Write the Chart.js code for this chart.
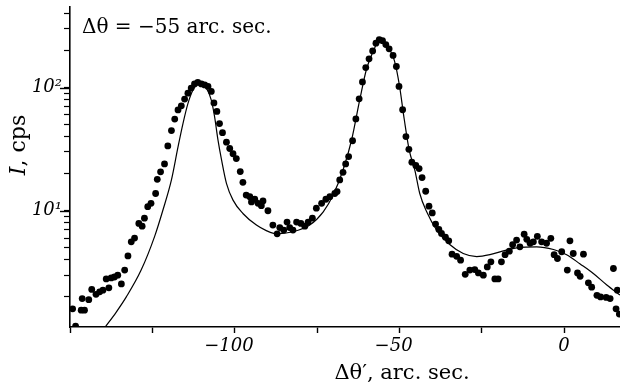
<!DOCTYPE html>
<html>
<head>
<meta charset="utf-8">
<script src="https://cdn.jsdelivr.net/npm/chart.js@4.4.0/dist/chart.umd.min.js"></script>
<style>
  html, body { margin: 0; padding: 0; background: #fff; }
  #wrap { width: 620px; height: 389px; }
</style>
</head>
<body>
<div id="wrap"><canvas id="rc" width="620" height="389"></canvas></div>
<script>
// measured intensity (dots), angle in arc sec
const dotX = [-149.2, -148.3, -146.6, -146.3, -145.6, -144.3, -143.4, -142.1, -141.0, -140.0,
  -139.0, -138.2, -137.5, -136.5, -135.5, -134.4, -133.4, -132.4, -131.4, -130.4,
  -129.1, -128.1, -127.4, -126.4, -125.4, -124.0, -123.5, -122.5, -121.3, -120.3,
  -119.2, -118.2, -117.2, -116.2, -115.2, -114.2, -113.2, -112.2, -111.2, -110.1,
  -109.1, -108.1, -107.1, -106.3, -105.4, -104.6, -103.7, -102.5, -101.5, -100.5,
  -99.5, -98.3, -97.5, -96.5, -95.4, -94.9, -93.9, -92.9, -91.9, -91.4,
  -89.9, -88.4, -87.1, -86.3, -85.1, -84.1, -83.3, -82.3, -81.2, -79.9,
  -78.7, -77.7, -76.4, -75.2, -73.6, -72.3, -71.1, -69.6, -68.9, -68.1,
  -67.1, -66.3, -65.4, -64.2, -63.2, -62.2, -61.2, -60.2, -59.2, -58.1,
  -57.1, -56.1, -55.1, -54.1, -53.1, -51.9, -50.9, -50.1, -49.0, -48.0,
  -47.1, -46.2, -45.0, -44.0, -43.1, -42.0, -41.0, -40.0, -39.0, -38.0,
  -37.2, -36.0, -35.0, -34.0, -32.6, -31.4, -30.0, -28.6, -27.1, -26.0,
  -24.5, -23.3, -22.2, -21.0, -20.0, -19.0, -17.9, -16.6, -15.6, -14.4,
  -13.4, -12.1, -11.3, -10.3, -9.3, -8.1, -6.8, -5.3, -4.0, -3.0,
  -2.0, -0.7, 1.0, 1.8, 2.8, 4.1, 4.9, 5.9, 7.4, 8.4,
  10.0, 11.1, 12.8, 14.0, 15.0, 15.8, 16.2, 16.8];
const dotY = [1.6, 1.16, 1.56, 1.94, 1.56, 1.9, 2.3, 2.1, 2.2, 2.27,
  2.8, 2.37, 2.85, 2.9, 3.0, 2.55, 3.3, 4.3, 5.6, 6.0,
  7.9, 7.5, 8.7, 10.8, 11.5, 13.8, 18.0, 20.7, 24, 33.6,
  44.7, 55.5, 65.8, 71, 80.5, 90, 99, 107, 110, 107,
  105, 102, 93, 75, 64, 51, 43, 36, 32, 29,
  26.5, 20.8, 17, 13.4, 13, 11.8, 12.4, 11.5, 11, 12,
  10, 7.65, 6.5, 7.3, 6.97, 8.1, 7.3, 6.97, 8.1, 7.9,
  7.5, 8.1, 8.7, 10.5, 11.5, 12.4, 13, 13.8, 14.3, 17.8,
  20.5, 24, 27.5, 37, 55.6, 81, 111, 145, 171, 198,
  229, 244, 240, 223, 206, 182, 148, 102, 66, 40,
  31.5, 24.8, 23.3, 22, 18.6, 14.4, 10.9, 9.6, 7.8, 7.06,
  6.55, 6.1, 5.7, 4.44, 4.27, 3.97, 3.05, 3.3, 3.33, 3.13,
  3.0, 3.5, 3.85, 2.8, 2.8, 3.85, 4.4, 4.7, 5.3, 5.78,
  5.1, 6.45, 5.87, 5.45, 5.6, 6.2, 5.6, 5.45, 5.97, 4.4,
  4.1, 4.65, 3.3, 5.7, 4.5, 3.13, 2.94, 4.44, 2.6, 2.4,
  2.06, 2.0, 1.98, 1.94, 3.4, 1.6, 2.27, 1.45];

// calculated curve
const fitX = [-139.3, -136, -132.9, -128.4, -124.3, -121.8, -119.2, -117.2, -115.7, -114.2,
  -112.7, -111.2, -110, -108.6, -107.1, -106.1, -105.1, -104, -102.5, -100.5,
  -97.5, -93.4, -90.4, -87.3, -82.3, -77.2, -73.1, -70.1, -67.1, -64.5,
  -62, -60, -58, -56, -54.5, -53, -51.5, -50, -48.5, -47,
  -45.3, -43.8, -41.7, -38.7, -34.6, -30.6, -26.5, -22.5, -17.5, -14.4,
  -8.3, -3.2, 0.8, 4.9, 8.9, 13, 17];
const fitY = [1.14, 1.5, 2.0, 3.3, 6.2, 10.1, 17.8, 33, 51, 74,
  95, 107, 108, 99, 79, 58, 38, 26, 16.7, 12.2,
  9.5, 7.65, 6.9, 6.5, 6.76, 7.65, 9.8, 13.4, 21.4, 37.5,
  80, 140, 195, 240, 230, 205, 165, 105, 55, 31,
  21.4, 13.8, 9.8, 7.0, 5.3, 4.5, 4.25, 4.4, 4.8, 5.0,
  5.1, 4.85, 4.4, 3.7, 3.1, 2.5, 2.07];

const xLabelValues = [-100, -50, 0];
// trailing figure space keeps the digits centred on the tick, minus hangs left
const xLabelText = ['\u2212100\u2007', '\u221250\u2007', '0'];
const yLabelValues = [10, 100];
const yLabelText = ['10\u00b9', '10\u00b2'];

const serif = "'DejaVu Serif', 'Liberation Serif', serif";

const dots = dotX.map((x, i) => ({ x: x, y: dotY[i] }));
const fit = fitX.map((x, i) => ({ x: x, y: fitY[i] }));

// axis titles, note and longer major ticks
const extras = {
  id: 'extras',
  afterDraw(chart) {
    const ctx = chart.ctx;
    const area = chart.chartArea;
    const y = chart.scales.y;
    ctx.save();
    ctx.strokeStyle = '#000';
    ctx.lineWidth = 1.4;
    yLabelValues.forEach(v => {
      const py = Math.round(y.getPixelForValue(v)) + 0.5;
      ctx.beginPath();
      ctx.moveTo(area.left - 10, py);
      ctx.lineTo(area.left, py);
      ctx.stroke();
    });

    ctx.fillStyle = '#000';
    ctx.textBaseline = 'middle';
    ctx.textAlign = 'left';
    ctx.font = '20px ' + serif;
    ctx.fillText('\u0394\u03b8 = \u221255 arc. sec.', 82, 28);

    ctx.textAlign = 'center';
    ctx.font = '21px ' + serif;
    ctx.fillText('\u0394\u03b8\u2032, arc. sec.', 402, 374);

    // y title: italic I + ", cps"
    ctx.translate(19, 145);
    ctx.rotate(-Math.PI / 2);
    ctx.textAlign = 'left';
    ctx.font = 'italic 22px ' + serif;
    const w1 = ctx.measureText('I').width;
    ctx.font = '22px ' + serif;
    const w2 = ctx.measureText(', cps').width;
    const x0 = -(w1 + w2) / 2;
    ctx.font = 'italic 22px ' + serif;
    ctx.fillText('I', x0, 0);
    ctx.font = '22px ' + serif;
    ctx.fillText(', cps', x0 + w1, 0);
    ctx.restore();
  }
};

new Chart(document.getElementById('rc'), {
  type: 'scatter',
  data: {
    datasets: [
      {
        type: 'line',
        data: fit,
        borderColor: '#000',
        borderWidth: 1.2,
        pointRadius: 0,
        fill: false,
        cubicInterpolationMode: 'monotone'
      },
      {
        data: dots,
        backgroundColor: '#000',
        borderColor: '#000',
        borderWidth: 0,
        pointRadius: 3.4
      }
    ]
  },
  options: {
    responsive: false,
    animation: false,
    devicePixelRatio: 1,
    layout: { autoPadding: false, padding: { top: 7, right: 0, left: 0, bottom: 0 } },
    plugins: { legend: { display: false }, tooltip: { enabled: false } },
    scales: {
      x: {
        type: 'linear',
        min: -150,
        max: 17,
        afterBuildTicks: s => { s.ticks = s.ticks.filter(t => t.value % 25 === 0); },
        afterFit: s => {
          s.height = 62;
          s.paddingLeft = 0;
          s.paddingRight = 0;
        },
        ticks: {
          stepSize: 25,
          autoSkip: false,
          maxRotation: 0,
          padding: 3,
          color: '#000',
          font: { family: serif, style: 'italic', size: 18 },
          callback: v => {
            const i = xLabelValues.indexOf(v);
            return i >= 0 ? xLabelText[i] : '';
          }
        },
        grid: { drawOnChartArea: false, tickLength: 6, tickColor: '#000', tickWidth: 1.4 },
        border: { color: '#000', width: 1.6 }
      },
      y: {
        type: 'logarithmic',
        min: 1.14,
        max: 450,
        afterBuildTicks: s => {
          s.ticks = s.ticks.filter(t => {
            const p = Math.pow(10, Math.floor(Math.log10(t.value) + 1e-9));
            const r = t.value / p;
            return Math.abs(r - Math.round(r)) < 1e-6;
          });
        },
        afterFit: s => {
          s.width = 70;
          s.paddingTop = 0;
          s.paddingBottom = 0;
        },
        ticks: {
          autoSkip: false,
          padding: 2,
          color: '#000',
          font: { family: serif, style: 'italic', size: 18 },
          callback: v => {
            const i = yLabelValues.indexOf(v);
            return i >= 0 ? yLabelText[i] : '';
          }
        },
        grid: { drawOnChartArea: false, tickLength: 6, tickColor: '#000', tickWidth: 1.2 },
        border: { color: '#000', width: 1.6 }
      }
    }
  },
  plugins: [extras]
});
</script>
</body>
</html>
